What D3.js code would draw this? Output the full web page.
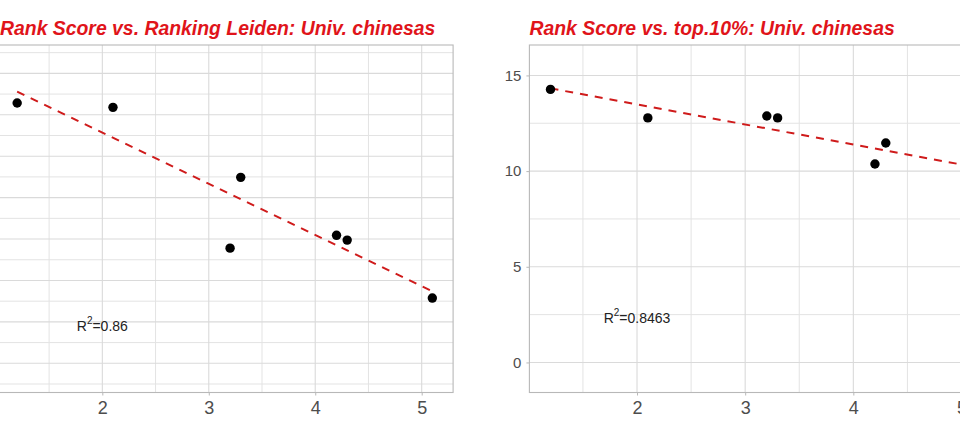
<!DOCTYPE html>
<html>
<head>
<meta charset="utf-8">
<script src="https://cdn.jsdelivr.net/npm/d3@7"></script>
<style>
  html, body { margin: 0; padding: 0; background: #fff; }
  svg { display: block; }
</style>
</head>
<body>
<svg id="chart" width="960" height="436"></svg>
<script>
// ---- data ----
const rankScore = [1.2, 2.1, 3.2, 3.3, 4.2, 4.3, 5.1];
const leidenValues = [14.57, 14.36, 7.56, 10.98, 8.18, 7.95, 5.15];
const top10Values = [14.27, 12.78, 12.88, 12.78, 10.37, 11.47, 10.0];
const titles = ["Rank Score vs. Ranking Leiden: Univ. chinesas", "Rank Score vs. top.10%: Univ. chinesas"];
const r2Labels = ["0.86", "0.8463"];
const r2Pos = [[2.0, 3.8], [2.0, 2.34]];
const xTicks = [2, 3, 4, 5];
const xMinor = [1.5, 2.5, 3.5, 4.5];
const leidenTicks = [2, 4, 6, 8, 10, 12, 14, 16];
const leidenMinor = [1, 3, 5, 7, 9, 11, 13, 15, 17];
const top10Ticks = [0, 5, 10, 15];
const top10Minor = [2.5, 7.5, 12.5];

const svg = d3.select("#chart");

// left panel's y-axis labels fall outside the visible crop, so they are not drawn
const panels = [
  { ys: leidenValues, xRange: [-3.6, 453.1], yDomain: [0.59, 17.37],
    yTicks: leidenTicks, yMinor: leidenMinor, showYLabels: false },
  { ys: top10Values, xRange: [529.4, 993.4], yDomain: [-1.57, 16.59],
    yTicks: top10Ticks, yMinor: top10Minor, showYLabels: true }
];

const panelTop = 45, panelBottom = 392.5;

function lm(xs, ys) {
  const mx = d3.mean(xs), my = d3.mean(ys);
  let sxy = 0, sxx = 0;
  xs.forEach((x, i) => { sxy += (x - mx) * (ys[i] - my); sxx += (x - mx) ** 2; });
  const b = sxy / sxx;
  return { a: my - b * mx, b };
}

panels.forEach((p, pi) => {
  const x = d3.scaleLinear().domain([1.005, 5.295]).range(p.xRange);
  const y = d3.scaleLinear().domain(p.yDomain).range([panelBottom, panelTop]);
  const g = svg.append("g");

  // minor grid
  g.selectAll(".vminor").data(xMinor).join("line")
    .attr("x1", d => x(d)).attr("x2", d => x(d)).attr("y1", panelTop).attr("y2", panelBottom)
    .attr("stroke", "#e3e3e3").attr("stroke-width", 1);
  g.selectAll(".hminor").data(p.yMinor.filter(v => v > p.yDomain[0] && v < p.yDomain[1])).join("line")
    .attr("x1", p.xRange[0]).attr("x2", p.xRange[1]).attr("y1", d => y(d)).attr("y2", d => y(d))
    .attr("stroke", "#e3e3e3").attr("stroke-width", 1);
  // major grid
  g.selectAll(".vmajor").data(xTicks).join("line")
    .attr("x1", d => x(d)).attr("x2", d => x(d)).attr("y1", panelTop).attr("y2", panelBottom)
    .attr("stroke", "#dadada").attr("stroke-width", 1.1);
  g.selectAll(".hmajor").data(p.yTicks).join("line")
    .attr("x1", p.xRange[0]).attr("x2", p.xRange[1]).attr("y1", d => y(d)).attr("y2", d => y(d))
    .attr("stroke", "#dadada").attr("stroke-width", 1.1);

  // border
  g.append("rect").attr("x", p.xRange[0]).attr("y", panelTop)
    .attr("width", p.xRange[1] - p.xRange[0]).attr("height", panelBottom - panelTop)
    .attr("fill", "none").attr("stroke", "#b8b8b8").attr("stroke-width", 1.1);

  // axes
  const xAxis = g.append("g").attr("transform", `translate(0,${panelBottom})`)
    .call(d3.axisBottom(x).tickValues(xTicks).tickSize(3).tickPadding(6).tickFormat(d3.format("d")));
  xAxis.select(".domain").remove();
  xAxis.selectAll("line").attr("stroke", "#b8b8b8");
  xAxis.selectAll("text").attr("fill", "#4d4d4d").attr("font-size", 18)
    .attr("font-family", "Liberation Sans, Arial, sans-serif");

  const yAxis = g.append("g").attr("transform", `translate(${p.xRange[0]},0)`)
    .call(d3.axisLeft(y).tickValues(p.yTicks).tickSize(3).tickPadding(5)
      .tickFormat(p.showYLabels ? d3.format("d") : () => ""));
  yAxis.select(".domain").remove();
  yAxis.selectAll("line").attr("stroke", "#b8b8b8");
  if (p.showYLabels) {
    yAxis.selectAll("text").attr("fill", "#4d4d4d").attr("font-size", 15)
      .attr("font-family", "Liberation Sans, Arial, sans-serif");
  } else {
    yAxis.selectAll("text").remove();
  }

  // regression line
  const fit = lm(rankScore, p.ys);
  const ex = d3.extent(rankScore);
  g.append("path")
    .datum(ex.map(v => [v, fit.a + fit.b * v]))
    .attr("d", d3.line().x(d => x(d[0])).y(d => y(d[1])))
    .attr("fill", "none").attr("stroke", "#cf1b1b").attr("stroke-width", 2)
    .attr("stroke-dasharray", "8,7");

  // points
  g.selectAll(".pt").data(rankScore.map((v, i) => [v, p.ys[i]])).join("circle")
    .attr("cx", d => x(d[0])).attr("cy", d => y(d[1])).attr("r", 4.7).attr("fill", "#000");

  // R2 label
  const t = g.append("text")
    .attr("x", x(r2Pos[pi][0])).attr("y", y(r2Pos[pi][1]))
    .attr("text-anchor", "middle").attr("dominant-baseline", "central")
    .attr("font-family", "Liberation Sans, Arial, sans-serif").attr("font-size", 14)
    .attr("fill", "#222");
  t.append("tspan").text("R");
  t.append("tspan").text("2").attr("font-size", 10).attr("dy", -6);
  t.append("tspan").text("=" + r2Labels[pi]).attr("dy", 6);

  // title
  g.append("text").attr("x", Math.max(p.xRange[0], 0)).attr("y", 34.5)
    .attr("font-family", "Liberation Sans, Arial, sans-serif").attr("font-size", 19.4)
    .attr("font-weight", "bold").attr("font-style", "italic").attr("fill", "#e0141a")
    .text(titles[pi]);
});
</script>
</body>
</html>
